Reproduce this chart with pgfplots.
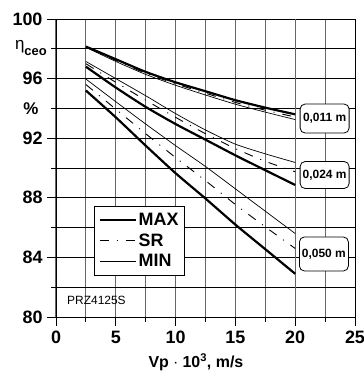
\documentclass[border=0pt]{standalone}
\usepackage{pgfplots}
\pgfplotsset{compat=1.18}
\usepackage{fontspec}
\setmainfont{Liberation Sans}
\begin{document}
\begin{tikzpicture}
\useasboundingbox (-56bp,-57bp) rectangle (308bp,317bp);
\begin{axis}[
  at={(0,0)}, anchor=south west,
  scale only axis, width=299bp, height=298bp,
  xmin=0, xmax=25, ymin=80, ymax=100,
  clip=false,
  xtick={0,5,...,25}, minor xtick={2.5,7.5,...,22.5},
  ytick={80,84,...,100}, minor ytick={82,86,...,98},
  tick align=outside, xtick pos=bottom, ytick pos=left,
  major tick length=9bp, minor tick length=4.5bp,
  every tick/.style={black, line width=0.8bp},
  grid=both,
  x grid style={black!60, line width=1bp},
  y grid style={black, line width=0.8bp},
  axis line style={black, line width=0.9bp},
  xticklabel={\textbf{\pgfmathprintnumber[assume math mode=true]{\tick}}},
  yticklabel={\textbf{\pgfmathprintnumber[assume math mode=true]{\tick}}},
  tick label style={font=\bfseries\fontsize{18}{18}\selectfont},
  xticklabel style={yshift=-3bp, inner ysep=2bp},
  yticklabel style={xshift=-1bp},
  extra x ticks={20}, extra x tick labels={},
  extra x tick style={grid style={black, line width=1bp}, major tick length=9bp},
  xlabel={Vp $\cdot$ 10\textsuperscript{3}, m/s},
  xlabel style={font=\bfseries\fontsize{16}{16}\selectfont, at={(axis description cs:0.468,-0.153)}, anchor=center, inner sep=0pt},
  legend cell align=left,
  legend style={at={(axis cs:3.19,87.45)}, anchor=north west, draw=black, line width=0.8bp, fill=white,
    font=\bfseries\fontsize{18}{18}\selectfont, row sep=2.5bp, inner xsep=4bp, inner ysep=5bp},
  legend image code/.code={\draw[#1] (0bp,0bp) -- (36bp,0bp);},
  every axis plot/.append style={smooth, tension=0.4},
]
% group 0.011 m
\addplot[black, line width=2.2bp] coordinates {(2.5,98.15)(5,97.3)(7.5,96.45)(10,95.75)(12.5,95.15)(15,94.55)(17.5,94.05)(20,93.6)};
\addlegendentry{MAX}
\addplot[black, line width=0.9bp, dash pattern=on 9bp off 8bp on 1bp off 8bp] coordinates {(2.5,98.12)(5,97.22)(7.5,96.36)(10,95.65)(12.5,95.02)(15,94.4)(17.5,93.88)(20,93.42)};
\addlegendentry{SR}
\addplot[black, line width=0.7bp] coordinates {(2.5,98.1)(5,97.15)(7.5,96.28)(10,95.55)(12.5,94.9)(15,94.28)(17.5,93.75)(20,93.25)};
\addlegendentry{MIN}
% group 0.024 m
\addplot[black, line width=2.2bp, forget plot] coordinates {(2.5,96.8)(5,95.4)(7.5,94.1)(10,92.95)(12.5,91.9)(15,90.85)(17.5,89.85)(20,88.86)};
\addplot[black, line width=0.9bp, dash pattern=on 9bp off 8bp on 1bp off 8bp, forget plot] coordinates {(2.5,97.0)(5,95.75)(7.5,94.55)(10,93.4)(12.5,92.3)(15,91.3)(17.5,90.45)(20,89.75)};
\addplot[black, line width=0.7bp, forget plot] coordinates {(2.5,97.15)(5,96.0)(7.5,94.85)(10,93.65)(12.5,92.55)(15,91.6)(17.5,90.95)(20,90.37)};
% group 0.050 m
\addplot[black, line width=2.2bp, forget plot] coordinates {(2.5,95.2)(5,93.4)(7.5,91.5)(10,89.65)(12.5,87.95)(15,86.2)(17.5,84.55)(20,82.9)};
\addplot[black, line width=0.9bp, dash pattern=on 9bp off 8bp on 1bp off 8bp, forget plot] coordinates {(2.5,95.6)(5,93.95)(7.5,92.3)(10,90.7)(12.5,89.15)(15,87.55)(17.5,86.05)(20,84.6)};
\addplot[black, line width=0.7bp, forget plot] coordinates {(2.5,95.97)(5,94.45)(7.5,92.95)(10,91.5)(12.5,90.1)(15,88.6)(17.5,87.1)(20,85.6)};
% labels
\node[draw=black, line width=0.8bp, fill=white, rounded corners=5bp, minimum width=49bp, minimum height=29bp, inner sep=1bp, font=\bfseries\fontsize{12}{12}\selectfont] at (axis cs:22.46,93.32) {0,011 m};
\node[draw=black, line width=0.8bp, fill=white, rounded corners=5bp, minimum width=49bp, minimum height=27bp, inner sep=1bp, font=\bfseries\fontsize{12}{12}\selectfont] at (axis cs:22.46,89.53) {0,024 m};
\node[draw=black, line width=0.8bp, fill=white, rounded corners=5bp, minimum width=49bp, minimum height=34bp, inner sep=1bp, font=\bfseries\fontsize{12}{12}\selectfont] at (axis cs:22.4,84.23) {0,050 m};
\node[anchor=west, font=\fontsize{12}{12}\selectfont, inner sep=0pt] at (axis cs:0.92,81.1) {PRZ4125S};
\node[anchor=base east, inner sep=0pt, xshift=-9bp, yshift=-0.7bp] at (axis cs:0,98) {{\fontsize{17}{17}\selectfont η}\raisebox{-6bp}{\bfseries\fontsize{13}{13}\selectfont ceo}};
\node[anchor=center, inner sep=0pt, xshift=-25bp, font=\bfseries\fontsize{17}{17}\selectfont] at (axis cs:0,94) {\%};
\end{axis}
\end{tikzpicture}
\end{document}
